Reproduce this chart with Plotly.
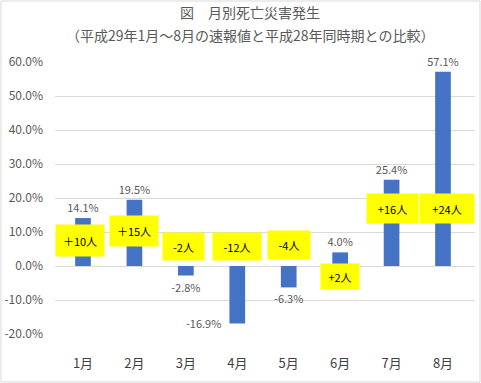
import plotly.graph_objects as go

months = ["1月", "2月", "3月", "4月", "5月", "6月", "7月", "8月"]
pct_change = [14.1, 19.5, -2.8, -16.9, -6.3, 4.0, 25.4, 57.1]
people_change = ["＋10人", "＋15人", "-2人", "-12人", "-4人", "+2人", "+16人", "+24人"]
y_ticks = [-20, -10, 0, 10, 20, 30, 40, 50, 60]
y_tick_labels = [f"{v:.1f}%" for v in y_ticks]

title_line1 = "図　月別死亡災害発生"
title_line2 = "（平成29年1月～8月の速報値と平成28年同時期との比較）"

# styles / placement of the yellow callouts (y in axis units, offsets/sizes in px)
box_y = [7.5, 10.3, 5.7, 5.7, 6.2, -3.1, 16.9, 16.9]
box_xshift = [-3, 0, -2, 0, 0, 0, 1, 4]
box_w = [48, 48, 41, 48, 42, 38, 51, 54]
box_h = [31, 30, 27, 27, 28, 25, 29, 29]

FONT = "Noto Sans CJK JP"
W, H = 481, 383
ML, MR, MT, MB = 55, 6, 62, 49
PW, PH = W - ML - MR, H - MT - MB

text_pos = ["outside"] * len(months)
special = months.index("4月")
text_pos[special] = "none"

fig = go.Figure(
    go.Bar(
        x=months,
        y=pct_change,
        marker=dict(color="#4472c4", line=dict(width=0)),
        texttemplate="%{y:.1f}%",
        textposition=text_pos,
        constraintext="none",
        textfont=dict(family=FONT, size=11, color="#595959"),
        cliponaxis=False,
        hoverinfo="skip",
    )
)

annotations = []
for i, m in enumerate(months):
    annotations.append(dict(
        x=m, y=box_y[i], xref="x", yref="y", xshift=box_xshift[i],
        text=people_change[i], showarrow=False,
        bgcolor="#ffff00", width=box_w[i], height=box_h[i], borderpad=0,
        align="center", valign="middle",
        font=dict(family=FONT, size=11, color="#000000"),
    ))

annotations.append(dict(
    x=months[special], y=pct_change[special], xref="x", yref="y",
    xanchor="right", yanchor="middle", xshift=-14,
    text=f"{pct_change[special]:.1f}%", showarrow=False,
    font=dict(family=FONT, size=11, color="#595959"),
))

title_x = (250 - ML) / PW
annotations.append(dict(
    x=title_x, y=1 + (MT - 12) / PH, xref="paper", yref="paper",
    text=title_line1, showarrow=False, xanchor="center", yanchor="middle",
    font=dict(family=FONT, size=14, color="#595959"),
))
annotations.append(dict(
    x=title_x, y=1 + (MT - 35) / PH, xref="paper", yref="paper",
    text=title_line2, showarrow=False, xanchor="center", yanchor="middle",
    font=dict(family=FONT, size=14, color="#595959"),
))

fig.update_layout(
    width=W, height=H,
    margin=dict(l=ML, r=MR, t=MT, b=MB, pad=0),
    paper_bgcolor="white", plot_bgcolor="white",
    showlegend=False,
    hovermode=False,
    bargap=0.695,
    annotations=annotations,
    shapes=[dict(
        type="rect", xref="paper", yref="paper",
        x0=-(ML - 1) / PW, x1=1 + (MR - 1) / PW,
        y0=-(MB - 1) / PH, y1=1 + (MT - 1) / PH,
        line=dict(color="#d9d9d9", width=1), fillcolor="rgba(0,0,0,0)", layer="below",
    )],
    xaxis=dict(
        showgrid=False, showline=False, zeroline=False, ticks="",
        tickfont=dict(family=FONT, size=13, color="#404040"),
        ticklabelstandoff=20, automargin=False, fixedrange=True,
    ),
    yaxis=dict(
        range=[-20, 60], tickvals=y_ticks, ticktext=y_tick_labels,
        showgrid=True, gridcolor="#d9d9d9", gridwidth=1,
        zeroline=True, zerolinecolor="#d9d9d9", zerolinewidth=1,
        showline=False, ticks="",
        tickfont=dict(family=FONT, size=12, color="#595959"),
        ticklabelstandoff=11, automargin=False, fixedrange=True,
    ),
)

fig.write_html(
    "out.html",
    config={"displayModeBar": False, "staticPlot": True},
    post_script="document.body.style.margin='0';document.body.style.padding='0';document.body.style.overflow='hidden';",
)
